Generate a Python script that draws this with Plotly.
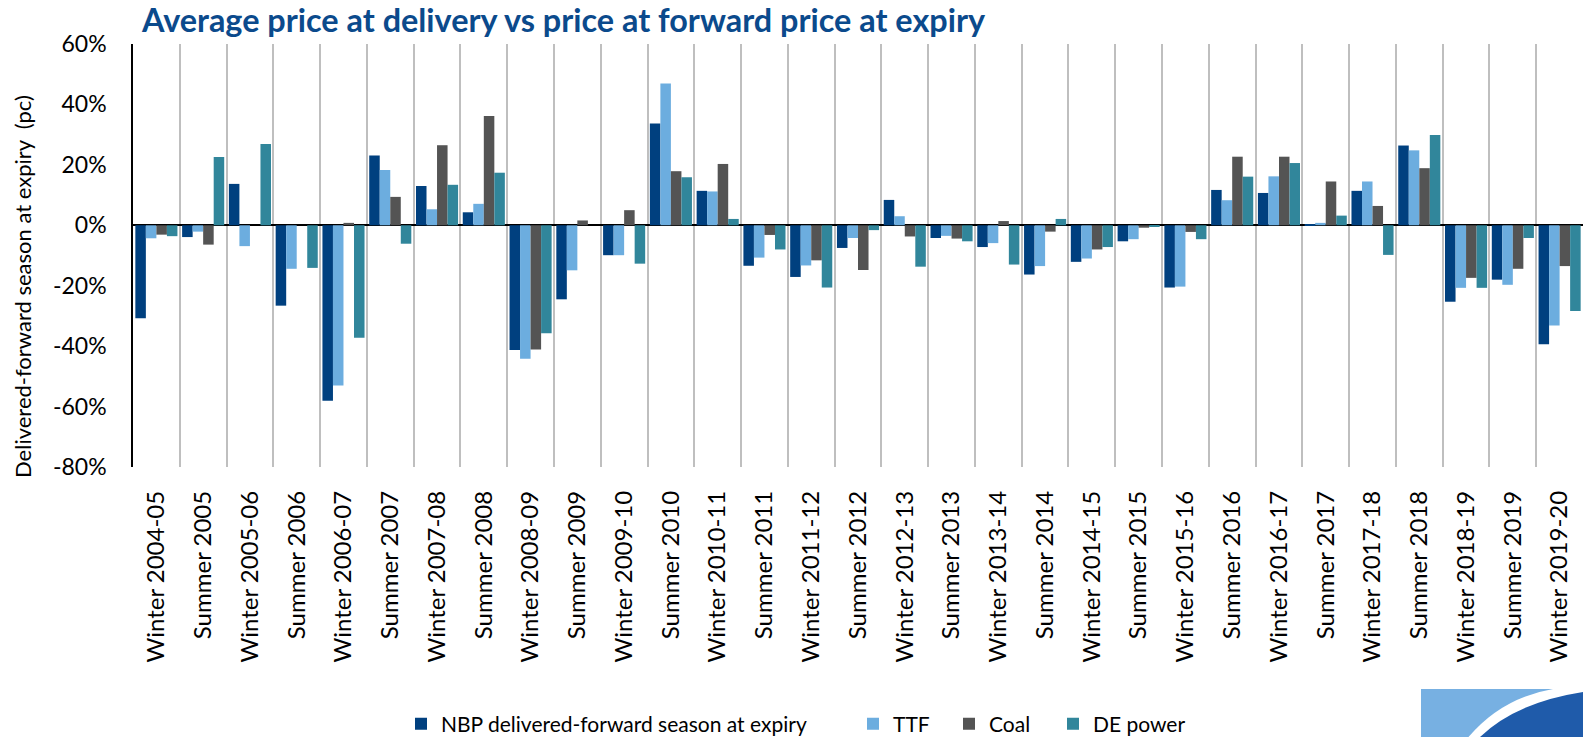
import plotly.graph_objects as go

categories = ["Winter 2004-05", "Summer 2005", "Winter 2005-06", "Summer 2006", "Winter 2006-07",
              "Summer 2007", "Winter 2007-08", "Summer 2008", "Winter 2008-09", "Summer 2009",
              "Winter 2009-10", "Summer 2010", "Winter 2010-11", "Summer 2011", "Winter 2011-12",
              "Summer 2012", "Winter 2012-13", "Summer 2013", "Winter 2013-14", "Summer 2014",
              "Winter 2014-15", "Summer 2015", "Winter 2015-16", "Summer 2016", "Winter 2016-17",
              "Summer 2017", "Winter 2017-18", "Summer 2018", "Winter 2018-19", "Summer 2019",
              "Winter 2019-20"]

nbp = [-30.8, -3.9, 13.7, -26.6, -58.1, 23.1, 13.0, 4.3, -41.3, -24.5, -9.9, 33.7, 11.4, -13.4,
       -17.1, -7.5, 8.4, -4.2, -7.2, -16.3, -12.1, -5.3, -20.6, 11.7, 10.7, 0.4, 11.4, 26.4,
       -25.3, -18.0, -39.4]
ttf = [-4.3, -2.1, -6.9, -14.4, -53.0, 18.3, 5.3, 7.1, -44.2, -14.9, -9.9, 46.9, 11.2, -10.7,
       -13.3, -4.2, 3.0, -3.5, -5.9, -13.5, -11.0, -4.6, -20.3, 8.3, 16.2, 0.8, 14.5, 24.8,
       -20.7, -19.7, -33.2]
coal = [-3.1, -6.4, None, None, 0.8, 9.4, 26.5, 36.2, -41.1, 1.6, 5.0, 17.9, 20.3, -3.2,
        -11.6, -14.8, -3.7, -4.4, 1.4, -2.1, -8.0, -0.8, -2.2, 22.7, 22.7, 14.5, 6.4, 18.9,
        -17.4, -14.4, -13.5]
de_power = [-3.6, 22.6, 26.9, -14.1, -37.2, -6.1, 13.4, 17.4, -35.7, None, -12.7, 15.9, 2.1, -8.0,
            -20.6, -1.6, -13.7, -5.3, -13.0, 2.1, -7.2, -0.3, -4.6, 16.1, 20.6, 3.2, -9.8, 29.9,
            -20.7, -4.2, -28.4]

series_names = ["NBP delivered-forward season at expiry", "TTF", "Coal", "DE power"]
series_colors = ["#00407F", "#6CADDF", "#545454", "#31869B"]

y_tick_vals = [-80, -60, -40, -20, 0, 20, 40, 60]
y_tick_text = ["-80%", "-60%", "-40%", "-20%", "0%", "20%", "40%", "60%"]

W, H = 1583, 737
PL, PT, PB = 133, 44, 467        # plot area in px
ML, MT, MB, MR = PL, PT, H - PB, 0
PW, PH = W - ML - MR, PB - PT

def px(x):
    return (x - PL) / PW

def py(y):
    return (PB - y) / PH

FONT = "Lato, Open Sans, sans-serif"

legend_names = ["legend", "legend2", "legend3", "legend4"]
legend_sq_x = [413, 865, 961, 1065]   # px of legend squares

fig = go.Figure()
for name, vals, col, lg in zip(series_names, [nbp, ttf, coal, de_power], series_colors, legend_names):
    fig.add_trace(go.Bar(x=categories, y=vals, name=name, marker_color=col,
                         marker_line_width=0, legend=lg, showlegend=True))

# logo shapes (decorative)
shapes = [
    dict(type="rect", xref="paper", yref="paper", x0=px(1421), x1=px(1590), y0=py(689), y1=py(740),
         fillcolor="#77B0E2", line_width=0, layer="above"),
    dict(type="path", xref="paper", yref="paper",
         path=f"M {px(1466)},{py(740)} Q {px(1500)},{py(698)} {px(1553)},{py(689)} L {px(1590)},{py(689)} L {px(1590)},{py(740)} Z",
         fillcolor="white", line_width=0, layer="above"),
    dict(type="path", xref="paper", yref="paper",
         path=f"M {px(1477)},{py(740)} Q {px(1515)},{py(701)} {px(1590)},{py(691)} L {px(1590)},{py(740)} Z",
         fillcolor="#1F5BAA", line_width=0, layer="above"),
]

legends = {}
for lg, sx in zip(legend_names, legend_sq_x):
    legends[lg] = dict(orientation="h", x=px(sx - 12), xanchor="left", y=py(724), yanchor="middle",
                       font=dict(size=21, family=FONT, color="black"), bgcolor="rgba(0,0,0,0)",
                       itemwidth=30, visible=True)

fig.update_layout(
    width=W, height=H,
    showlegend=True,
    margin=dict(l=ML, r=MR, t=MT, b=MB, pad=0, autoexpand=False),
    paper_bgcolor="white", plot_bgcolor="white",
    barmode="group", bargap=0.1, bargroupgap=0,
    font=dict(family=FONT, color="black"),
    title=dict(text="<b>Average price at delivery vs price at forward price at expiry</b>",
               font=dict(family=FONT, size=32.4, color="#0B4A8C"),
               xref="container", x=142 / W, xanchor="left",
               yref="container", y=1 - 21 / H, yanchor="middle"),
    xaxis=dict(type="category", range=[-0.5, 30.5], tickson="boundaries",
               showgrid=True, gridcolor="#BFBFBF", gridwidth=1.5,
               ticks="outside", ticklen=24, tickcolor="rgba(0,0,0,0)",
               ticklabelstandoff=18,
               tickangle=-90, tickfont=dict(size=24, family=FONT, color="black"),
               showline=False, zeroline=False, automargin=False),
    yaxis=dict(range=[-80, 60], tickvals=y_tick_vals, ticktext=y_tick_text,
               showgrid=False, zeroline=True, zerolinecolor="black", zerolinewidth=1.5,
               showline=True, linecolor="black", linewidth=1.5,
               ticks="outside", ticklen=20, tickcolor="rgba(0,0,0,0)",
               tickfont=dict(size=23, family=FONT, color="black"), automargin=False),
    annotations=[dict(text="Delivered-forward season at expiry  (pc)", textangle=-90,
                      xref="paper", yref="paper", x=px(22), y=py(287),
                      xanchor="center", yanchor="middle", showarrow=False,
                      font=dict(size=22, family=FONT, color="black"))],
    shapes=shapes,
    **legends,
)

fig.write_html("out.html", config={"displayModeBar": False},
               post_script="document.body.style.margin='0px';document.body.style.overflow='hidden';")
